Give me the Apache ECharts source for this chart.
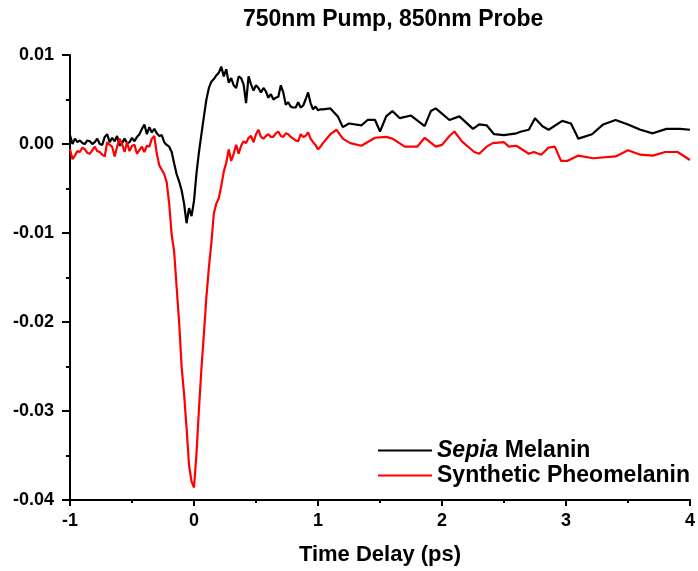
<!DOCTYPE html>
<html>
<head>
<meta charset="utf-8">
<title>750nm Pump, 850nm Probe</title>
<script src="https://cdn.jsdelivr.net/npm/echarts@6/dist/echarts.min.js"></script>
<style>
  html, body { margin: 0; padding: 0; background: #fff; }
  #main { width: 698px; height: 571px; }
</style>
</head>
<body>
<div id="main"></div>
<script>
// time delay grid (ps) of the densely sampled part, shared by both traces
var delayDense = [
  -1.00,-0.98,-0.96,-0.94,-0.92,-0.90,-0.88,-0.86,-0.84,-0.82,
  -0.80,-0.78,-0.76,-0.74,-0.72,-0.70,-0.68,-0.66,-0.64,-0.62,
  -0.60,-0.58,-0.56,-0.54,-0.52,-0.50,-0.48,-0.46,-0.44,-0.42,
  -0.40,-0.38,-0.36,-0.34,-0.32,-0.30,-0.28,-0.26,-0.24,-0.22,
  -0.20,-0.18,-0.16,-0.14,-0.12,-0.10,-0.08,-0.06,-0.04,-0.02,
  0.00,0.02,0.04,0.06,0.08,0.10,0.12,0.14,0.16,0.18,
  0.20,0.22,0.24,0.26,0.28,0.30,0.32,0.34,0.36,0.38,
  0.40,0.42,0.44,0.46,0.48,0.50,0.52,0.54,0.56,0.58,
  0.60,0.62,0.64,0.66,0.68,0.70,0.72,0.74,0.76,0.78,
  0.80,0.82,0.84,0.86,0.88,0.90,0.92,0.94,0.96,0.98,
  1.00,1.02,1.04
];

// Sepia melanin
var sepiaDense = [
  0.0010,0.0000,0.0006,0.0002,0.0004,0.0001,0.0000,0.0004,0.0003,0.0000,
  0.0002,0.0006,0.0000,-0.0001,0.0008,0.0011,0.0002,0.0007,0.0003,0.0009,
  -0.0002,0.0001,0.0006,0.0001,0.0002,0.0007,0.0003,0.0008,0.0011,0.0017,
  0.0022,0.0011,0.0019,0.0013,0.0017,0.0012,0.0009,0.0010,0.0002,-0.0001,
  -0.0003,-0.0009,-0.0022,-0.0034,-0.0042,-0.0052,-0.0067,-0.0089,-0.0072,-0.0081,
  -0.0064,-0.0033,-0.0009,0.0011,0.0031,0.0050,0.0063,0.0070,0.0073,0.0077,
  0.0080,0.0087,0.0076,0.0084,0.0069,0.0074,0.0066,0.0063,0.0076,0.0074,
  0.0067,0.0046,0.0076,0.0067,0.0060,0.0066,0.0063,0.0058,0.0063,0.0059,
  0.0052,0.0056,0.0050,0.0052,0.0053,0.0066,0.0058,0.0044,0.0047,0.0042,
  0.0041,0.0041,0.0047,0.0041,0.0043,0.0050,0.0058,0.0046,0.0039,0.0042,
  0.0038,0.0039,0.0039
];
var sepiaTailDelay = [
  1.10,1.16,1.20,1.25,1.35,1.40,1.46,1.50,1.55,1.60,
  1.66,1.75,1.86,1.91,1.95,2.06,2.14,2.25,2.30,2.36,
  2.42,2.50,2.60,2.64,2.70,2.75,2.81,2.86,2.97,3.04,
  3.10,3.21,3.30,3.40,3.50,3.60,3.70,3.81,3.92,4.00
];
var sepiaTail = [
  0.0040,0.0031,0.0019,0.0023,0.0021,0.0027,0.0027,0.0014,0.0031,0.0037,
  0.0029,0.0032,0.0020,0.0037,0.0040,0.0027,0.0031,0.0017,0.0022,0.0021,
  0.0011,0.0010,0.0012,0.0014,0.0016,0.0029,0.0020,0.0016,0.0026,0.0023,
  0.0006,0.0011,0.0022,0.0027,0.0022,0.0016,0.0012,0.0017,0.0017,0.0016
];

// synthetic pheomelanin
var pheoDense = [
  -0.0006,-0.0017,-0.0013,-0.0008,-0.0009,-0.0004,-0.0006,-0.0010,-0.0011,-0.0007,
  -0.0003,-0.0008,-0.0009,-0.0012,-0.0014,0.0002,-0.0001,-0.0003,-0.0014,-0.0003,
  0.0006,0.0000,-0.0009,0.0002,-0.0008,-0.0002,-0.0001,-0.0011,-0.0007,-0.0003,
  -0.0009,-0.0002,-0.0003,0.0006,0.0009,-0.0011,-0.0024,-0.0029,-0.0034,-0.0043,
  -0.0067,-0.0102,-0.0121,-0.0161,-0.0200,-0.0250,-0.0281,-0.0319,-0.0361,-0.0379,
  -0.0386,-0.0348,-0.0298,-0.0252,-0.0213,-0.0172,-0.0139,-0.0111,-0.0078,-0.0067,
  -0.0061,-0.0047,-0.0031,-0.0021,-0.0006,-0.0019,-0.0011,-0.0001,-0.0011,-0.0002,
  0.0003,0.0001,0.0007,0.0009,0.0002,0.0011,0.0016,0.0008,0.0006,0.0009,
  0.0011,0.0008,0.0008,0.0012,0.0014,0.0009,0.0008,0.0012,0.0011,0.0008,
  0.0006,0.0004,0.0003,0.0011,0.0008,0.0009,0.0013,0.0006,0.0002,-0.0001,
  -0.0006,-0.0003,0.0001
];
var pheoTailDelay = [
  1.10,1.15,1.20,1.26,1.35,1.46,1.55,1.60,1.70,1.80,
  1.86,1.95,2.00,2.06,2.10,2.16,2.26,2.30,2.36,2.41,
  2.50,2.54,2.60,2.70,2.74,2.80,2.86,2.91,2.96,3.01,
  3.10,3.22,3.40,3.50,3.60,3.70,3.80,3.90,4.00
];
var pheoTail = [
  0.0011,0.0016,0.0006,0.0001,-0.0002,0.0007,0.0008,0.0006,-0.0003,-0.0003,
  0.0007,-0.0003,-0.0001,0.0009,0.0014,0.0003,-0.0009,-0.0011,-0.0003,0.0001,
  0.0002,-0.0003,-0.0002,-0.0011,-0.0009,-0.0012,-0.0004,-0.0003,-0.0019,-0.0019,
  -0.0013,-0.0016,-0.0014,-0.0007,-0.0012,-0.0013,-0.0009,-0.0009,-0.0018
];

var seriesNames = ['Sepia Melanin', 'Synthetic Pheomelanin'];
var seriesColors = ['#000000', '#ff0000'];

function pairs(t, v) {
  var out = [];
  for (var i = 0; i < t.length; i++) out.push([t[i], v[i]]);
  return out;
}

var sepiaData = pairs(delayDense, sepiaDense).concat(pairs(sepiaTailDelay, sepiaTail));
var pheoData = pairs(delayDense, pheoDense).concat(pairs(pheoTailDelay, pheoTail));

var font = "'Liberation Sans', Arial, sans-serif";

var myChart = echarts.init(document.getElementById('main'));
var option = {
  animation: false,
  backgroundColor: '#fff',
  title: {
    text: '750nm Pump, 850nm Probe',
    left: 238,
    top: 3,
    textStyle: { fontFamily: font, fontWeight: 'bold', fontSize: 23, color: '#000' }
  },
  grid: { left: 70, right: 3, top: 55, bottom: 66 },
  legend: {
    orient: 'vertical',
    left: 373,
    top: 434,
    icon: 'rect',
    itemWidth: 54,
    itemHeight: 2,
    itemGap: 2,
    data: seriesNames,
    formatter: function (name) {
      return name === 'Sepia Melanin' ? '{i|Sepia} Melanin' : name;
    },
    textStyle: {
      fontFamily: font, fontWeight: 'bold', fontSize: 23, color: '#000', lineHeight: 23,
      rich: {
        i: { fontFamily: font, fontWeight: 'bold', fontStyle: 'italic', fontSize: 23, color: '#000', lineHeight: 23 }
      }
    }
  },
  xAxis: {
    type: 'value',
    min: -1,
    max: 4,
    interval: 1,
    name: 'Time Delay (ps)',
    nameLocation: 'middle',
    nameGap: 44,
    nameTextStyle: { fontFamily: font, fontWeight: 'bold', fontSize: 22, color: '#000' },
    axisLine: { onZero: false, lineStyle: { color: '#000', width: 2 } },
    axisTick: { length: 6, lineStyle: { color: '#000', width: 2 } },
    minorTick: { show: true, splitNumber: 2, length: 3, lineStyle: { color: '#000', width: 2 } },
    axisLabel: { margin: 12, fontFamily: font, fontWeight: 'bold', fontSize: 18, color: '#000' },
    splitLine: { show: false }
  },
  yAxis: {
    type: 'value',
    min: -0.04,
    max: 0.01,
    interval: 0.01,
    axisLine: { show: true, onZero: false, lineStyle: { color: '#000', width: 2 } },
    axisTick: { show: true, length: 8, lineStyle: { color: '#000', width: 2 } },
    minorTick: { show: true, splitNumber: 2, length: 4, lineStyle: { color: '#000', width: 2 } },
    axisLabel: {
      margin: 16, fontFamily: font, fontWeight: 'bold', fontSize: 18, color: '#000',
      formatter: function (v) { return v.toFixed(2); }
    },
    splitLine: { show: false }
  },
  series: [
    {
      name: seriesNames[0], type: 'line', data: sepiaData,
      symbol: 'none', showSymbol: false,
      lineStyle: { color: seriesColors[0], width: 2.2 },
      itemStyle: { color: seriesColors[0] }
    },
    {
      name: seriesNames[1], type: 'line', data: pheoData,
      symbol: 'none', showSymbol: false,
      lineStyle: { color: seriesColors[1], width: 2.2 },
      itemStyle: { color: seriesColors[1] }
    }
  ]
};
myChart.setOption(option);
</script>
</body>
</html>
